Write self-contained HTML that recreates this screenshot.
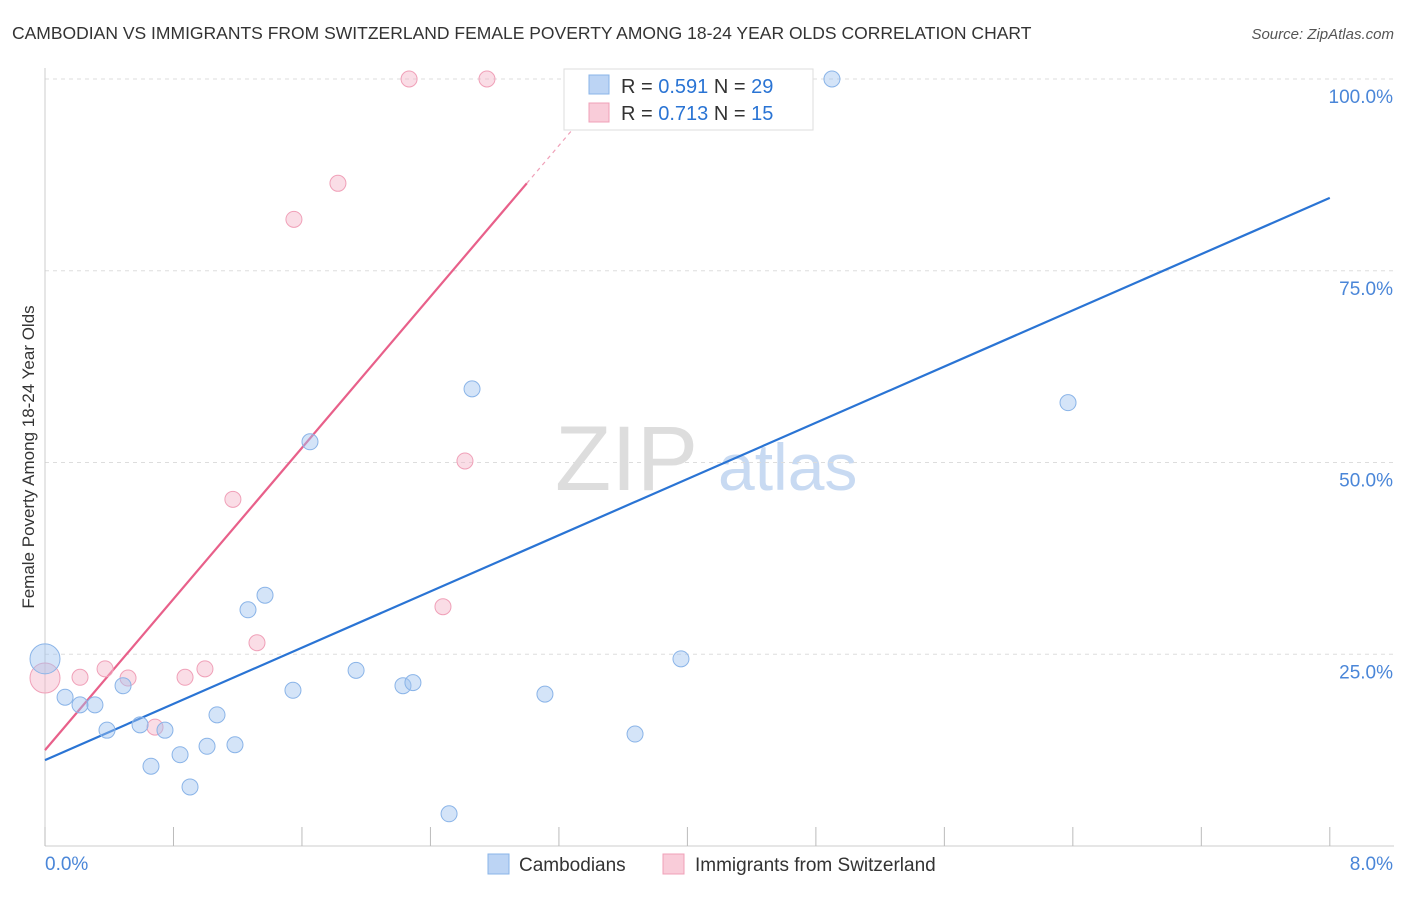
<!DOCTYPE html>
<html><head><meta charset="utf-8"><style>
body{margin:0;background:#fff;font-family:"Liberation Sans",sans-serif}
svg text{font-family:"Liberation Sans",sans-serif}
</style></head><body>
<svg id="chart" width="1406" height="892">
<text x="12" y="39" font-size="17.5" fill="#333">CAMBODIAN VS IMMIGRANTS FROM SWITZERLAND FEMALE POVERTY AMONG 18-24 YEAR OLDS CORRELATION CHART</text>
<text x="1394" y="39" font-size="15" fill="#555" text-anchor="end" font-style="italic">Source: ZipAtlas.com</text>
<text x="34" y="457" font-size="17" fill="#333" text-anchor="middle" transform="rotate(-90 34 457)">Female Poverty Among 18-24 Year Olds</text>
<text x="555" y="490" font-size="92" fill="#ddd" font-family="Liberation Serif">ZIP</text>
<text x="718" y="490" font-size="66" fill="#c8daf2">atlas</text>
<g id="grid"></g><g id="axes"></g><g id="lines"></g><g id="points"></g>
<g>
<rect x="564" y="69" width="249" height="61" fill="#fff" stroke="#ddd"/>
<rect x="589" y="75" width="20" height="19" fill="#bcd4f4" stroke="#8ab4e8"/>
<text x="621" y="93" font-size="20" fill="#333">R = <tspan fill="#2a74d4">0.591</tspan>   N = <tspan fill="#2a74d4">29</tspan></text>
<rect x="589" y="103" width="20" height="19" fill="#f9ccd9" stroke="#f0a0b8"/>
<text x="621" y="120" font-size="20" fill="#333">R = <tspan fill="#2a74d4">0.713</tspan>   N =  <tspan fill="#2a74d4">15</tspan></text>
</g>
<g>
<rect x="488" y="854" width="21" height="20" fill="#bcd4f4" stroke="#8ab4e8"/>
<text x="519" y="871" font-size="19" fill="#333">Cambodians</text>
<rect x="663" y="854" width="21" height="20" fill="#f9ccd9" stroke="#f0a0b8"/>
<text x="695" y="871" font-size="19" fill="#333">Immigrants from Switzerland</text>
</g>
</svg>
<script>
const blueX=[0,0.125,0.218,0.311,0.386,0.486,0.592,0.660,0.747,0.841,0.903,1.009,1.071,1.183,1.264,1.370,1.544,1.650,1.937,2.229,2.291,2.516,2.659,3.113,3.674,3.960,4.900,6.370,3.362];
const blueY=[24.4,19.4,18.4,18.4,15.1,20.9,15.8,10.4,15.1,11.9,7.7,13.0,17.1,13.2,30.8,32.7,20.3,52.7,22.9,20.9,21.3,4.2,59.6,19.8,14.6,24.4,100,57.8,100];
const pinkX=[0,0.218,0.374,0.517,0.685,0.872,0.996,1.170,1.320,1.550,1.824,2.267,2.478,2.615,2.752];
const pinkY=[21.9,22.0,23.1,21.9,15.5,22.0,23.1,45.2,26.5,81.7,86.4,100,31.2,50.2,100];
const blueLine=[11.2,84.5]; // y at x=0 and x=8
const pinkLine=[12.5,86.4,3.0]; // y at x=0, y at x=3.0
const yTicks=[25,50,75,100];
const yTickLabels=["25.0%","50.0%","75.0%","100.0%"];
const xLabels=["0.0%","8.0%"];
const NS="http://www.w3.org/2000/svg";
const X=v=>45+v*160.6, Y=v=>846-v*7.67;
function mk(tag,attrs,parent){const e=document.createElementNS(NS,tag);for(const k in attrs)e.setAttribute(k,attrs[k]);document.getElementById(parent).appendChild(e);return e;}
yTicks.forEach((t,i)=>{
 const l=mk('line',{x1:45,x2:1394,y1:Y(t),y2:Y(t),stroke:'#ddd','stroke-dasharray':'4,4'},'grid');
 
 
 const tx=mk('text',{x:1393,y:Y(t)+24,'font-size':19,fill:'#4a86d8','text-anchor':'end'},'axes');
 tx.textContent=yTickLabels[i];
 
 
});
const ax=mk('line',{x1:45,x2:1394,y1:846,y2:846,stroke:'#ccc'},'axes');


const ay=mk('line',{x1:45,x2:45,y1:68,y2:846,stroke:'#ccc'},'axes');


for(let i=0;i<=10;i++){const t=mk('line',{x1:X(i*0.8),x2:X(i*0.8),y1:827,y2:846,stroke:'#bbb'},'axes');
 
 }
[[0,'start'],[8,'end']].forEach((p,i)=>{const t=mk('text',{x:i?1393:45,y:870,'font-size':19,fill:'#4a86d8','text-anchor':p[1]},'axes');t.textContent=xLabels[i];
 
 });
const bl=mk('line',{x1:X(0),y1:Y(blueLine[0]),x2:X(8),y2:Y(blueLine[1]),stroke:'#2a74d4','stroke-width':2.2},'lines');


const slope=(pinkLine[1]-pinkLine[0])/pinkLine[2];
const pl=mk('line',{x1:X(0),y1:Y(pinkLine[0]),x2:X(pinkLine[2]),y2:Y(pinkLine[1]),stroke:'#e8608a','stroke-width':2.2},'lines');


const xe=(100-pinkLine[0])/slope;
const pd=mk('line',{x1:X(pinkLine[2]),y1:Y(pinkLine[1]),x2:X(xe),y2:Y(100),stroke:'#f0a0b8','stroke-width':1.2,'stroke-dasharray':'4,4'},'lines');


function pts(xs,ys,fill,stroke,name){xs.forEach((x,i)=>{const c=mk('circle',{cx:X(x),cy:Y(ys[i]),r:i===0?15:8,fill:fill,stroke:stroke,'stroke-width':1},'points');
 
 });}
pts(pinkX,pinkY,'rgba(245,180,200,0.45)','#f0a0b8','swiss-point');
pts(blueX,blueY,'rgba(160,195,240,0.45)','#8ab4e8','cambodian-point');
</script>
</body></html>
